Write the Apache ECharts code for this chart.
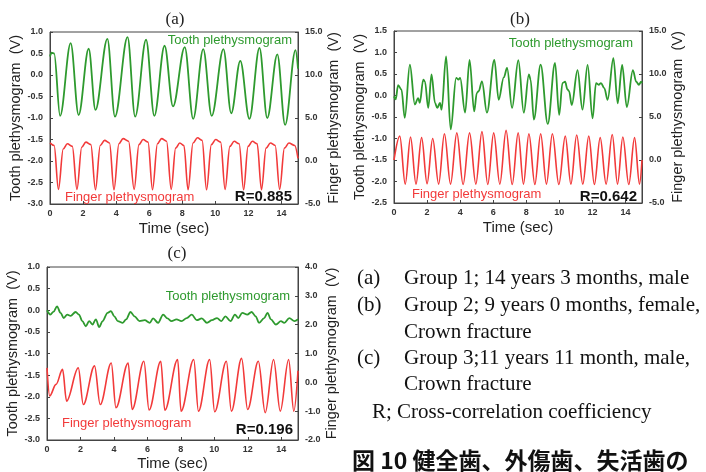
<!DOCTYPE html>
<html>
<head>
<meta charset="utf-8">
<script src="https://cdn.jsdelivr.net/npm/echarts@6/dist/echarts.min.js"></script>
<style>
html,body{margin:0;padding:0;background:#fff;}
#chart{width:706px;height:472px;}
</style>
</head>
<body>
<div id="chart"></div>
<script>
// 読み取り値 [time(sec), V]
var toothA = [[0,0.43],[0.1,0.52],[0.25,0.5],[0.61,-0.95],[1.25,0.74],[1.73,-0.93],[2.34,0.61],[2.75,-0.81],[3.47,0.84],[3.93,-0.97],[4.69,0.88],[5.15,-0.97],[5.81,0.82],[6.31,-0.95],[6.93,0.68],[7.44,-0.73],[8.15,0.65],[8.66,-1.02],[9.27,0.6],[9.78,-0.95],[10.49,0.6],[10.96,-0.89],[11.51,0.33],[12.06,-1.02],[12.67,0.63],[13.14,-1.0],[13.75,0.48],[14.22,-1.16],[14.85,0.58],[15,0.15]];
var fingerA = [[0,2.1],[0.25,1.8],
  [0.51,-3.3],[0.8,1.4],[1.05,2.0],[1.35,1.7],
  [1.63,-3.3],[1.92,1.6],[2.17,2.2],[2.47,1.9],
  [2.75,-3.35],[3.04,1.8],[3.3,2.4],[3.6,2.1],
  [3.87,-3.35],[4.17,2.0],[4.42,2.6],[4.75,2.3],
  [5.09,-3.3],[5.38,1.9],[5.63,2.5],[5.93,2.2],
  [6.2,-3.35],[6.5,2.0],[6.75,2.6],[7.05,2.3],
  [7.33,-3.3],[7.6,1.5],[7.85,2.1],[8.1,1.8],
  [8.35,-3.35],[8.65,2.1],[8.92,2.7],[9.2,2.4],
  [9.47,-3.35],[9.76,1.9],[10.02,2.5],[10.32,2.2],
  [10.59,-3.3],[10.88,1.7],[11.14,2.3],[11.44,2.0],
  [11.71,-3.35],[11.98,1.7],[12.24,2.3],[12.53,2.0],
  [12.79,-3.35],[13.07,1.5],[13.33,2.1],[13.62,1.8],
  [13.89,-3.3],[14.18,1.5],[14.45,2.1],[14.8,1.8],[15,0.3]];
var toothB = [[0,-0.02],[0.1,-0.09],[0.25,0.24],[0.45,0.14],[0.65,-0.52],[0.96,0.72],[1.26,-0.21],[1.46,-0.06],[1.56,-0.17],[1.77,0.37],[1.87,0.33],[2.07,-0.29],[2.27,0.49],[2.48,-0.17],[2.62,-0.29],[2.78,-0.17],[2.88,-0.33],[3.15,0.91],[3.43,-0.79],[3.76,0.41],[3.9,0.37],[4.0,0.41],[4.3,-0.4],[4.57,0.83],[4.85,-0.37],[5.01,0.06],[5.12,0.1],[5.32,0.33],[5.62,-0.4],[6.07,0.83],[6.33,-0.1],[6.64,0.42],[6.84,0.64],[7.14,-0.29],[7.52,0.82],[7.85,-0.4],[8.16,0.49],[8.26,0.37],[8.46,-0.56],[8.87,0.72],[9.3,-0.66],[9.74,0.76],[9.99,-0.45],[10.19,0.29],[10.35,0.32],[10.49,0.14],[10.59,0.1],[10.75,-0.22],[11.1,0.59],[11.4,-0.33],[11.71,0.71],[12.01,-0.53],[12.22,0.29],[12.38,0.25],[12.52,0.29],[12.72,0.17],[12.92,-0.1],[13.27,0.87],[13.53,-0.18],[13.8,0.71],[14.08,-0.27],[14.45,0.59],[14.65,0.32],[14.81,0.25],[14.95,0.32],[15,0.29]];
var fingerB = [[0,0.0],[0.35,2.78],[0.68,-2.8],[1.0,2.67],[1.33,-2.8],[1.67,2.6],[2.0,-2.75],[2.34,2.5],[2.7,-2.8],[3.05,3.05],[3.42,-2.8],[3.8,3.15],[4.18,-2.85],[4.57,3.15],[4.95,-2.8],[5.32,3.3],[5.67,-2.85],[6.03,3.15],[6.4,-2.8],[6.78,3.45],[7.15,-2.85],[7.51,3.15],[7.83,-2.8],[8.16,3.05],[8.52,-2.85],[8.87,3.05],[9.22,-2.8],[9.58,3.05],[9.97,-2.85],[10.36,2.78],[10.7,-2.8],[11.05,2.9],[11.42,-2.8],[11.78,2.78],[12.12,-2.85],[12.47,2.6],[12.83,-2.8],[13.2,2.97],[13.52,-2.8],[13.84,2.67],[14.2,-2.85],[14.55,2.6],[14.85,-2.8],[15,0.0]];
var toothC = [[0,0.0],[0.2,-0.1],[0.4,-0.03],[0.6,0.09],[0.81,-0.06],[1.0,-0.18],[1.21,-0.1],[1.41,-0.13],[1.71,-0.04],[1.91,-0.1],[2.11,-0.25],[2.32,-0.37],[2.52,-0.25],[2.72,-0.33],[2.92,-0.21],[3.12,-0.39],[3.32,-0.25],[3.62,-0.06],[3.82,-0.02],[4.02,-0.14],[4.23,-0.25],[4.53,-0.29],[4.73,-0.21],[4.99,-0.04],[5.23,-0.14],[5.53,-0.25],[5.84,-0.23],[6.14,-0.29],[6.34,-0.19],[6.64,-0.29],[6.94,-0.1],[7.2,-0.19],[7.44,-0.25],[7.74,-0.21],[8.04,-0.25],[8.35,-0.18],[8.65,-0.1],[8.95,-0.23],[9.25,-0.19],[9.56,-0.29],[9.86,-0.23],[10.16,-0.18],[10.42,-0.25],[10.66,-0.14],[10.97,-0.25],[11.23,-0.1],[11.43,-0.18],[11.67,-0.06],[11.97,-0.1],[12.23,-0.04],[12.47,-0.14],[12.67,-0.29],[12.98,-0.18],[13.18,-0.06],[13.38,-0.21],[13.68,-0.33],[13.98,-0.25],[14.18,-0.29],[14.48,-0.18],[14.79,-0.25],[15,-0.21]];
var fingerC = [[0,0.5],[0.16,-0.47],[0.54,-0.07],[0.93,0.45],[1.17,-0.65],[1.87,0.5],[2.17,-0.77],[2.84,0.57],[3.18,-0.77],[3.84,0.67],[4.12,-0.88],[4.85,0.67],[5.09,-0.94],[5.79,0.73],[6.1,-0.96],[6.8,0.73],[7.04,-0.97],[7.81,0.79],[8.01,-1.0],[8.77,0.79],[9.05,-1.0],[9.72,0.79],[10.02,-1.02],[10.72,0.73],[11.02,-1.0],[11.63,0.83],[11.99,-0.94],[12.63,0.73],[13.04,-1.05],[13.54,0.79],[13.94,-1.0],[14.44,0.79],[14.75,-1.0],[15,0.4]];

var panelNames = ['(a)', '(b)', '(c)'];
var rValues = ['R=0.885', 'R=0.642', 'R=0.196'];
var leftRange = [[-3, 1, 0.5], [-2.5, 1.5, 0.5], [-3, 1, 0.5]];
var rightRange = [[-5, 15, 5], [-5, 15, 5], [-2, 4, 1]];
var captionTags = ['(a)', '(b)', '', '(c)', ''];
var captionLines = ['Group 1; 14 years 3 months, male', 'Group 2; 9 years 0 months, female,', 'Crown fracture', 'Group 3;11 years 11 month, male,', 'Crown fracture'];
var noteLine = 'R; Cross-correlation coefficiency';
var figTitle = '図 10 健全歯、外傷歯、失活歯の';

var GREEN = '#2e9a2e';
var RED = '#f23a3a';
var SANS = '"Liberation Sans", Arial, sans-serif';
var SERIF = '"Liberation Serif", "Times New Roman", serif';

var grids = [
  {left: 50, top: 32, width: 248, height: 172},
  {left: 394, top: 31, width: 248, height: 172},
  {left: 47, top: 267, width: 251, height: 174}
];
var nameGaps = [[25, 25, 17], [27, 24, 17], [25, 25, 16]];

var chart = echarts.init(document.getElementById('chart'));

var tickLabel = {fontSize: 9, fontWeight: 'bold', color: '#333', fontFamily: SANS, margin: 7,
  formatter: function (v) { return v.toFixed(1); }};
var lineStyleAxis = {show: true, onZero: false, lineStyle: {color: '#444', width: 1}};

var xAxes = [], yAxes = [], series = [], graphics = [];
var tooth = [toothA, toothB, toothC];
var finger = [fingerA, fingerB, fingerC];

grids.forEach(function (g, i) {
  g.show = true;
  g.borderColor = '#444';
  g.borderWidth = 1;
  xAxes.push({
    type: 'value', gridIndex: i, min: 0, max: 15, interval: 2,
    name: 'Time (sec)', nameLocation: 'middle', nameGap: nameGaps[i][2],
    nameTextStyle: {fontSize: 15, color: '#222', fontFamily: SANS},
    axisLine: lineStyleAxis,
    axisTick: {inside: true, length: 3, lineStyle: {color: '#444'}},
    axisLabel: {fontSize: 9, fontWeight: 'bold', color: '#333', fontFamily: SANS, margin: 5, showMaxLabel: false},
    splitLine: {show: false}
  });
  yAxes.push({
    type: 'value', gridIndex: i, position: 'left',
    min: leftRange[i][0], max: leftRange[i][1], interval: leftRange[i][2],
    name: 'Tooth plethysmogram  (V)', nameLocation: 'middle', nameGap: nameGaps[i][0],
    nameTextStyle: {fontSize: 14.5, color: '#222', fontFamily: SANS},
    axisLine: lineStyleAxis,
    axisTick: {inside: true, length: 3, lineStyle: {color: '#444'}},
    axisLabel: tickLabel,
    splitLine: {show: false}
  });
  yAxes.push({
    type: 'value', gridIndex: i, position: 'right',
    min: rightRange[i][0], max: rightRange[i][1], interval: rightRange[i][2],
    name: 'Finger plethysmogram  (V)', nameLocation: 'middle', nameGap: nameGaps[i][1],
    nameTextStyle: {fontSize: 14.5, color: '#222', fontFamily: SANS},
    axisLine: lineStyleAxis,
    axisTick: {inside: true, length: 3, lineStyle: {color: '#444'}},
    axisLabel: tickLabel,
    splitLine: {show: false}
  });
  series.push({
    type: 'line', xAxisIndex: i, yAxisIndex: i * 2, data: tooth[i],
    showSymbol: false, smooth: 0.35, smoothMonotone: 'x',
    lineStyle: {color: GREEN, width: 1.8}, itemStyle: {color: GREEN}, silent: true
  });
  series.push({
    type: 'line', xAxisIndex: i, yAxisIndex: i * 2 + 1, data: finger[i],
    showSymbol: false, smooth: 0.35, smoothMonotone: 'x',
    lineStyle: {color: RED, width: 1.6}, itemStyle: {color: RED}, silent: true
  });
});

// パネル内の文字
var txtPos = [
  {title: [175, 20], tooth: [292, 40], finger: [65, 197], r: [292, 197]},
  {title: [520, 20], tooth: [633, 43], finger: [412, 194], r: [637, 197]},
  {title: [177, 254], tooth: [290, 296], finger: [62, 423], r: [293, 430]}
];
function txt(x, y, s, fill, size, fam, weight, align) {
  return {type: 'text', x: x, y: y, silent: true,
    style: {text: s, fill: fill, fontSize: size, fontFamily: fam, fontWeight: weight || 'normal',
      align: align || 'left', verticalAlign: 'middle'}};
}
txtPos.forEach(function (p, i) {
  graphics.push(txt(p.title[0], p.title[1], panelNames[i], '#222', 17, SERIF, 'normal', 'center'));
  graphics.push(txt(p.tooth[0], p.tooth[1], 'Tooth plethysmogram', GREEN, 13, SANS, 'normal', 'right'));
  graphics.push(txt(p.finger[0], p.finger[1], 'Finger plethysmogram', RED, 13, SANS, 'normal', 'left'));
  graphics.push(txt(p.r[0], p.r[1], rValues[i], '#111', 15, SANS, 'bold', 'right'));
});

// 説明文
var capY = [278, 305, 332, 358, 384];
captionLines.forEach(function (s, i) {
  if (captionTags[i]) graphics.push(txt(357, capY[i], captionTags[i], '#111', 21, SERIF));
  graphics.push(txt(404, capY[i], s, '#111', 21, SERIF));
});
graphics.push(txt(372, 412, noteLine, '#111', 21, SERIF));
graphics.push(txt(352, 460, figTitle, '#111', 23, '"Noto Sans CJK JP", sans-serif', 'bold'));

chart.setOption({
  animation: false,
  grid: grids,
  xAxis: xAxes,
  yAxis: yAxes,
  series: series,
  graphic: graphics
});
</script>
</body>
</html>
